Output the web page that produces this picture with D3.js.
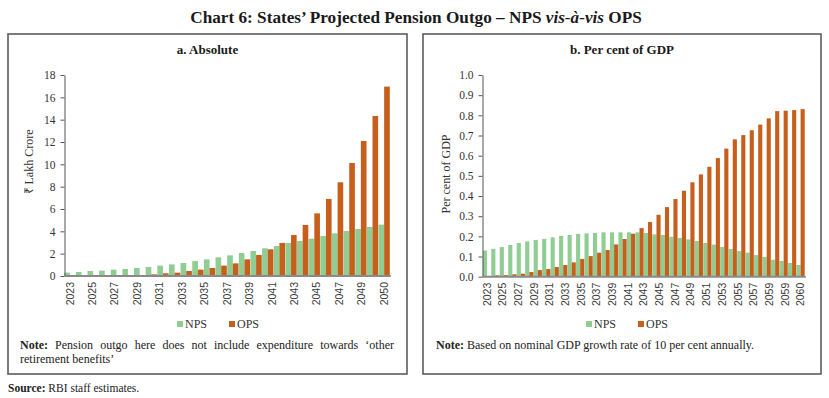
<!DOCTYPE html>
<html>
<head>
<meta charset="utf-8">
<script src="https://cdn.jsdelivr.net/npm/d3@7"></script>
<style>
  body { margin: 0; background: #fff; }
  svg { display: block; font-family: "Liberation Serif", serif; }
</style>
</head>
<body>
<svg id="chart" width="829" height="398"></svg>
<script>
// ---- data ----
const absYears = d3.range(2023, 2051);
const absTickLabels = ["2023","2025","2027","2029","2031","2033","2035","2037","2039",
                       "2041","2043","2045","2047","2049","2050"];
const absNps = [0.30,0.36,0.45,0.48,0.57,0.63,0.72,0.81,0.93,1.04,1.16,1.34,1.49,1.67,
                1.85,2.06,2.24,2.48,2.69,2.96,3.13,3.34,3.58,3.82,4.03,4.21,4.39,4.60];
const absOps = [0.00,0.00,0.01,0.01,0.02,0.03,0.09,0.15,0.24,0.30,0.45,0.57,0.72,0.93,
                1.13,1.49,1.88,2.39,2.96,3.67,4.57,5.61,6.90,8.39,10.12,12.09,14.33,16.96];

const gdpYears = d3.range(2023, 2061);
const gdpTickLabels = ["2023","2025","2027","2029","2031","2033","2035","2037","2039","2041",
                       "2043","2045","2047","2049","2051","2053","2055","2057","2059","2059","2060"];
const gdpNps = [0.130,0.138,0.147,0.157,0.167,0.175,0.182,0.187,0.195,0.202,
                0.207,0.212,0.215,0.217,0.220,0.220,0.220,0.220,0.220,0.217,
                0.210,0.207,0.198,0.192,0.185,0.177,0.167,0.159,0.147,0.137,
                0.127,0.119,0.107,0.098,0.084,0.078,0.068,0.058];
const gdpOps = [0.002,0.007,0.008,0.012,0.015,0.023,0.033,0.038,0.048,0.058,
                0.071,0.088,0.102,0.119,0.132,0.160,0.187,0.213,0.241,0.271,
                0.307,0.345,0.385,0.426,0.468,0.507,0.545,0.588,0.635,0.681,
                0.702,0.726,0.754,0.785,0.821,0.823,0.826,0.831];

const seriesNames = ["NPS", "OPS"];
const colours = { NPS: "#8fcd92", OPS: "#c75f1c" };

const svg = d3.select("#chart");
svg.append("rect").attr("width", 829).attr("height", 398).attr("fill", "#fff");

svg.append("text")
    .attr("x", 416).attr("y", 23)
    .attr("text-anchor", "middle")
    .style("font-size", "17.2px").style("font-weight", "bold").attr("fill", "#1a1a1a")
    .call(t => {
        t.append("tspan").text("Chart 6: States\u2019 Projected Pension Outgo \u2013 NPS ");
        t.append("tspan").style("font-style", "italic").text("vis-\u00e0-vis");
        t.append("tspan").text(" OPS");
    });

/**
   lay words out across [x0,x1] with even gaps, first word bold
*/
function justifyLine(g, words, x0, x1, y, boldFirst) {
    let nodes = words.map((w, i) => g.append("text")
        .attr("y", y)
        .style("font-size", "12px").attr("fill", "#222")
        .style("font-weight", boldFirst && i === 0 ? "bold" : "normal")
        .text(w));
    let total = d3.sum(nodes, n => n.node().getComputedTextLength());
    let gap = (x1 - x0 - total) / (words.length - 1);
    let x = x0;
    nodes.forEach(n => {
        n.attr("x", x);
        x += n.node().getComputedTextLength() + gap;
    });
}

/**
   draw one boxed panel: clustered bars, axes, legend, note
*/
function drawPanel(cfg) {
    let g = svg.append("g");

    g.append("rect")
        .attr("x", cfg.box[0]).attr("y", cfg.box[1])
        .attr("width", cfg.box[2]).attr("height", cfg.box[3])
        .attr("fill", "none").attr("stroke", "#5c5c5c").attr("stroke-width", 1.6);

    g.append("text")
        .attr("x", cfg.box[0] + cfg.box[2] / 2).attr("y", 54)
        .attr("text-anchor", "middle")
        .style("font-size", "13px").style("font-weight", "bold").attr("fill", "#1a1a1a")
        .text(cfg.title);

    let x = d3.scaleBand().domain(cfg.years).range(cfg.xRange).paddingInner(0.03);
    let xs = d3.scaleBand().domain(seriesNames).range([0, x.bandwidth()]);
    let y = d3.scaleLinear().domain([0, cfg.yMax]).range([cfg.yBase, 75]);

    // bars
    seriesNames.forEach(name => {
        let vals = name === "NPS" ? cfg.nps : cfg.ops;
        g.append("g").selectAll("rect")
            .data(cfg.years.map((yr, i) => ({ yr: yr, v: vals[i] })))
            .join("rect")
            .attr("x", d => x(d.yr) + xs(name))
            .attr("width", xs.bandwidth())
            .attr("y", d => y(d.v))
            .attr("height", d => y(0) - y(d.v))
            .attr("fill", colours[name]);
    });

    // y axis
    let yAxis = g.append("g")
        .attr("transform", "translate(" + cfg.axisX + ",0)")
        .call(d3.axisLeft(y).tickValues(cfg.yTicks).tickFormat(cfg.yFormat)
              .tickSize(4).tickSizeOuter(0).tickPadding(5));
    yAxis.select(".domain").attr("stroke", "#555");
    yAxis.selectAll(".tick line").attr("stroke", "#555");
    yAxis.selectAll(".tick text")
        .style("font-family", "'Liberation Serif', serif")
        .style("font-size", "11.5px").attr("fill", "#333");

    g.append("text")
        .attr("transform", "translate(" + cfg.yTitlePos[0] + "," + cfg.yTitlePos[1] + ") rotate(-90)")
        .attr("text-anchor", "middle")
        .style("font-size", "12px").attr("fill", "#333")
        .text(cfg.yTitle);

    // x axis line
    g.append("line")
        .attr("x1", cfg.axisX).attr("x2", cfg.xRange[1] + 1)
        .attr("y1", y(0)).attr("y2", y(0))
        .attr("stroke", "#8a8a8a").attr("stroke-width", 2);

    // tick labels, spread evenly between first and last category centre
    let first = x(cfg.years[0]) + x.bandwidth() / 2;
    let last = x(cfg.years[cfg.years.length - 1]) + x.bandwidth() / 2;
    let lx = d3.scalePoint().domain(d3.range(cfg.tickLabels.length)).range([first, last]);
    g.append("g").selectAll("text")
        .data(cfg.tickLabels)
        .join("text")
        .attr("transform", (d, i) => "translate(" + lx(i) + "," + (y(0) + 6) + ") rotate(-90)")
        .attr("text-anchor", "end")
        .attr("dy", "0.35em")
        .style("font-family", "'Liberation Sans', sans-serif")
        .style("font-size", "10.5px").attr("fill", "#3a3a3a")
        .text(d => d);

    // legend
    let leg = g.append("g").selectAll("g")
        .data(seriesNames)
        .join("g")
        .attr("transform", (d, i) => "translate(" + (cfg.legendX + i * 52) + ",321)");
    leg.append("rect").attr("width", 6).attr("height", 6).attr("fill", d => colours[d]);
    leg.append("text").attr("x", 8).attr("y", 6.5)
        .style("font-size", "12px").attr("fill", "#333")
        .text(d => d);

    cfg.note(g);
}

drawPanel({
    box: [8, 34, 399, 340],
    title: "a. Absolute",
    years: absYears, nps: absNps, ops: absOps,
    tickLabels: absTickLabels,
    xRange: [64.2, 389.8], axisX: 64.5, yBase: 276, yMax: 18,
    yTicks: d3.range(0, 19, 2), yFormat: d3.format("d"),
    yTitle: "\u20b9 Lakh Crore", yTitlePos: [33, 162],
    legendX: 177,
    note: g => {
        justifyLine(g, ["Note:", "Pension", "outgo", "here", "does", "not", "include",
                        "expenditure", "towards", "\u2018other"], 20, 394, 349, true);
        g.append("text").attr("x", 20).attr("y", 363)
            .style("font-size", "12px").attr("fill", "#222")
            .text("retirement benefits\u2019");
    }
});

drawPanel({
    box: [423, 34, 398, 340],
    title: "b. Per cent of GDP",
    years: gdpYears, nps: gdpNps, ops: gdpOps,
    tickLabels: gdpTickLabels,
    xRange: [482.8, 804.7], axisX: 482.5, yBase: 276.7, yMax: 1.0,
    yTicks: d3.range(0, 11).map(v => v / 10), yFormat: d3.format(".1f"),
    yTitle: "Per cent of GDP", yTitlePos: [450, 174],
    legendX: 586,
    note: g => {
        let t = g.append("text").attr("x", 436).attr("y", 349)
            .style("font-size", "12px").attr("fill", "#222");
        t.append("tspan").style("font-weight", "bold").text("Note: ");
        t.append("tspan").text("Based on nominal GDP growth rate of 10 per cent annually.");
    }
});

svg.append("text").attr("x", 8).attr("y", 392)
    .style("font-size", "11.5px").attr("fill", "#222")
    .call(t => {
        t.append("tspan").style("font-weight", "bold").text("Source: ");
        t.append("tspan").text("RBI staff estimates.");
    });
</script>
</body>
</html>
